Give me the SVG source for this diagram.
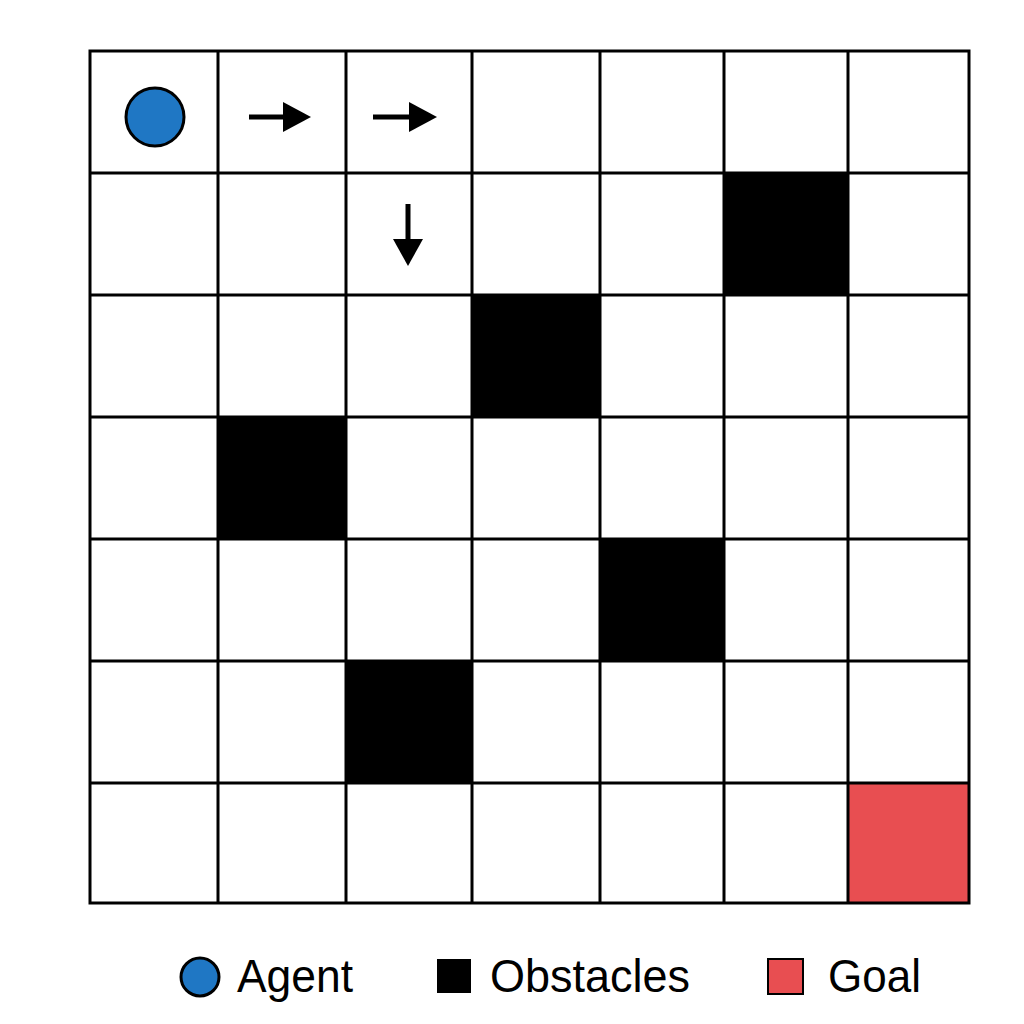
<svg xmlns="http://www.w3.org/2000/svg" width="1024" height="1024" viewBox="0 0 1024 1024">
<style>
.grid{stroke:#000;stroke-width:3;fill:none}
.obs{fill:#000}
.goal{fill:#E84E51}
.agent{fill:#1F77C4;stroke:#000;stroke-width:3}
.lbl{font-family:"Liberation Sans",Arial,sans-serif;font-size:47px;fill:#000}
.arr{stroke:#000;stroke-width:5}
</style>
<rect width="1024" height="1024" fill="#fff"/>
<g id="cells">
<rect class="obs" x="724" y="173" width="124" height="122"/>
<rect class="obs" x="472" y="295" width="128" height="122"/>
<rect class="obs" x="218" y="417" width="128" height="122"/>
<rect class="obs" x="600" y="539" width="124" height="122"/>
<rect class="obs" x="346" y="661" width="126" height="122"/>
<rect id="goal" class="goal" x="848" y="783" width="121" height="120"/>
</g>
<g id="grid" class="grid">
<rect x="90" y="51" width="879" height="852"/>
<path d="M218,51V903M346,51V903M472,51V903M600,51V903M724,51V903M848,51V903"/>
<path d="M90,173H969M90,295H969M90,417H969M90,539H969M90,661H969M90,783H969"/>
</g>
<g id="agent"><circle class="agent" cx="155" cy="117" r="29"/></g>
<g id="connectors">
<line class="arr" x1="249" y1="117" x2="284" y2="117"/>
<path d="M283,102 L311,117 L283,132 Z"/>
<line class="arr" x1="373" y1="117" x2="410" y2="117"/>
<path d="M409,102 L437,117 L409,132 Z"/>
<line class="arr" x1="408" y1="204" x2="408" y2="240"/>
<path d="M393,239 L408,266 L423,239 Z"/>
</g>
<g id="legend">
<circle class="agent" cx="200" cy="977" r="19" stroke-width="2.5"/>
<text class="lbl" x="237" y="992" textLength="116" lengthAdjust="spacingAndGlyphs">Agent</text>
<rect x="437" y="959" width="34" height="34" fill="#000"/>
<text class="lbl" x="490" y="992" textLength="200" lengthAdjust="spacingAndGlyphs">Obstacles</text>
<rect x="768" y="959" width="35" height="35" fill="#E84E51" stroke="#000" stroke-width="2"/>
<text class="lbl" x="828" y="992" textLength="93" lengthAdjust="spacingAndGlyphs">Goal</text>
</g>
</svg>
